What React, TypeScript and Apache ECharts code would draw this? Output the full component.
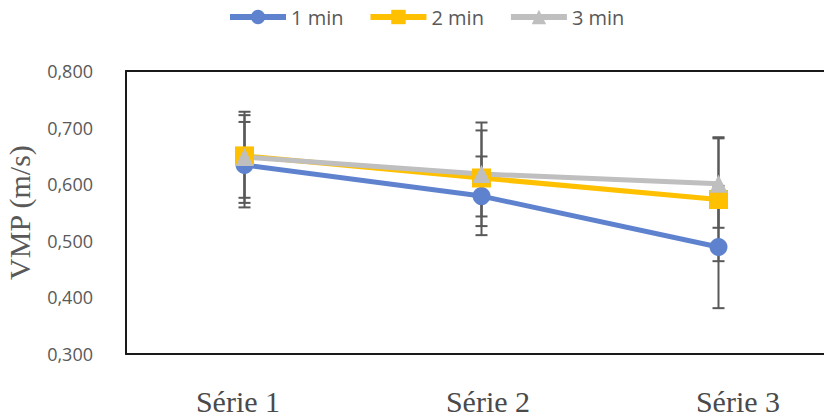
import React, { useEffect, useRef } from "react";
import * as echarts from "echarts";

const categories = ["Série 1", "Série 2", "Série 3"];
const seriesNames = ["1 min", "2 min", "3 min"];
const mean1 = [0.634, 0.579, 0.489];
const mean2 = [0.650, 0.611, 0.573];
const mean3 = [0.648, 0.618, 0.601];
const low1 = [0.559, 0.510, 0.381];
const high1 = [0.710, 0.649, 0.597];
const low2 = [0.567, 0.526, 0.464];
const high2 = [0.728, 0.695, 0.683];
const low3 = [0.576, 0.543, 0.523];
const high3 = [0.722, 0.709, 0.681];
const yTicks = [0.3, 0.4, 0.5, 0.6, 0.7, 0.8];

const colors = ["#5F82CE", "#FFC000", "#BFBFBF"];
const symbols = ["circle", "rect", "triangle"];
const symbolSizes = [18, 19, 18];

export default function App() {
  const ref = useRef<HTMLDivElement>(null);
  useEffect(() => {
    if (!ref.current) return;
    const chart = echarts.init(ref.current, null, { renderer: "svg" });
    const means = [mean1, mean2, mean3];
    const lows = [low1, low2, low3];
    const highs = [high1, high2, high3];
    const errSeries = means.map((_, s) => ({
      type: "custom",
      name: seriesNames[s] + " err",
      z: 1,
      silent: true,
      clip: false,
      data: categories.map((_, i) => [i, lows[s][i], highs[s][i]]),
      renderItem: (params: any, api: any) => {
        const x = api.value(0);
        const pLo = api.coord([x, api.value(1)]);
        const pHi = api.coord([x, api.value(2)]);
        const hw = 6;
        const st = { stroke: "#595959", lineWidth: 2 };
        return {
          type: "group",
          children: [
            { type: "line", shape: { x1: pLo[0], y1: pLo[1], x2: pHi[0], y2: pHi[1] }, style: st },
            { type: "line", shape: { x1: pLo[0] - hw, y1: pLo[1], x2: pLo[0] + hw, y2: pLo[1] }, style: st },
            { type: "line", shape: { x1: pHi[0] - hw, y1: pHi[1], x2: pHi[0] + hw, y2: pHi[1] }, style: st },
          ],
        };
      },
    }));
    const lineSeries = means.map((m, s) => ({
      type: "line",
      name: seriesNames[s],
      data: m,
      z: 3,
      symbol: symbols[s],
      symbolSize: symbolSizes[s],
      showAllSymbol: true,
      clip: false,
      lineStyle: { color: colors[s], width: 5 },
      itemStyle: { color: colors[s], borderWidth: 0 },
      emphasis: { disabled: true },
    }));
    const frameLine = { show: true, lineStyle: { color: "#1A1A1A", width: 2 } };
    chart.setOption({
      animation: false,
      legend: {
        data: seriesNames,
        left: 227,
        top: 7,
        padding: 0,
        itemWidth: 56,
        itemHeight: 18,
        itemGap: 24,
        lineStyle: { width: 6 },
        textStyle: { fontFamily: "Open Sans", fontSize: 20, color: "#595959" },
      },
      graphic: [
        {
          type: "rect",
          right: 0,
          top: 73,
          z: 100,
          shape: { width: 10, height: 279 },
          style: { fill: "#ffffff" },
          silent: true,
        },
      ],
      grid: [
        {
          left: 126,
          top: 71,
          width: 711,
          height: 283,
          outerBoundsMode: "none",
          containLabel: false,
        },
        {
          left: 113,
          top: 71,
          width: 750,
          height: 283,
          outerBoundsMode: "none",
          containLabel: false,
        },
      ],
      xAxis: [
        {
          type: "category",
          gridIndex: 0,
          data: categories,
          boundaryGap: true,
          axisLine: frameLine,
          axisTick: { show: false },
          axisLabel: { show: false },
        },
        {
          type: "category",
          gridIndex: 0,
          position: "top",
          data: categories,
          boundaryGap: true,
          axisLine: frameLine,
          axisTick: { show: false },
          axisLabel: { show: false },
        },
        {
          type: "category",
          gridIndex: 1,
          data: categories,
          boundaryGap: true,
          axisLine: { show: false },
          axisTick: { show: false },
          axisLabel: {
            fontFamily: "Liberation Serif",
            fontSize: 30,
            color: "#4A4A4A",
            margin: 32,
          },
        },
      ],
      yAxis: [
        {
          type: "value",
          gridIndex: 0,
          min: yTicks[0],
          max: yTicks[yTicks.length - 1],
          interval: 0.1,
          name: "VMP (m/s)",
          nameLocation: "middle",
          nameGap: 92,
          nameTextStyle: { fontFamily: "Liberation Serif", fontSize: 30, color: "#595959" },
          axisLine: frameLine,
          axisTick: { show: false },
          splitLine: { show: false },
          axisLabel: {
            fontFamily: "Open Sans",
            fontSize: 18,
            color: "#595959",
            margin: 33,
            formatter: (v: number) => v.toFixed(3).replace(".", ","),
          },
        },
        {
          type: "value",
          gridIndex: 1,
          min: yTicks[0],
          max: yTicks[yTicks.length - 1],
          interval: 0.1,
          show: false,
        },
      ],
      series: [...errSeries, ...lineSeries],
    });
    return () => chart.dispose();
  }, []);
  return (
    <div
      ref={ref}
      style={{ position: "fixed", left: 0, top: 0, width: 824, height: 417, background: "#fff" }}
    />
  );
}
